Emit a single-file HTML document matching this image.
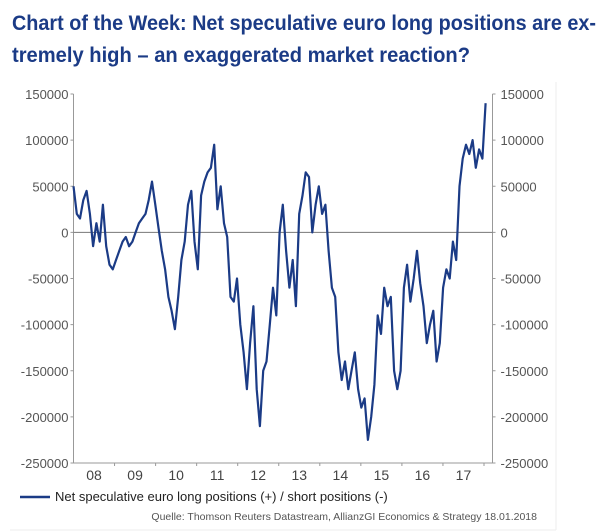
<!DOCTYPE html>
<html><head><meta charset="utf-8"><style>
html,body{margin:0;padding:0;background:#fff;}
svg{display:block;font-family:"Liberation Sans",Arial,sans-serif;}
</style></head><body>
<svg id="chart" width="613" height="532" viewBox="0 0 613 532">
<text x="12" y="30" font-family="'Liberation Sans Narrow','Liberation Sans',sans-serif" font-weight="bold" font-size="21" fill="#1b3b86" textLength="584" lengthAdjust="spacingAndGlyphs">Chart of the Week: Net speculative euro long positions are ex-</text>
<text x="12" y="62" font-family="'Liberation Sans Narrow','Liberation Sans',sans-serif" font-weight="bold" font-size="21" fill="#1b3b86" textLength="458" lengthAdjust="spacingAndGlyphs">tremely high – an exaggerated market reaction?</text>
<line x1="556" y1="82" x2="556" y2="530" stroke="#eee" stroke-width="1"/>
<line x1="10" y1="530" x2="556" y2="530" stroke="#eee" stroke-width="1"/>
<g id="axes"></g>
<g id="series"></g>
<line x1="20" y1="497" x2="50" y2="497" stroke="#1b3b86" stroke-width="2.5"/>
<text x="55" y="501" font-size="13" fill="#222">Net speculative euro long positions (+) / short positions (-)</text>
<text x="537" y="520" font-size="10.5" fill="#555" text-anchor="end">Quelle: Thomson Reuters Datastream, AllianzGI Economics &amp; Strategy 18.01.2018</text>
</svg>
<script>
const yTicks=[150000,100000,50000,0,-50000,-100000,-150000,-200000,-250000];
const years=["08","09","10","11","12","13","14","15","16","17"];
const values=[50000,20000,15000,35000,45000,20000,-15000,10000,-10000,30000,-15000,-35000,-40000,
-30000,-20000,-10000,-5000,-15000,-10000,0,10000,15000,20000,35000,55000,30000,5000,
-20000,-40000,-70000,-85000,-105000,-70000,-30000,-10000,30000,45000,-10000,-40000,
40000,55000,65000,70000,95000,25000,50000,10000,-5000,-70000,-75000,-50000,
-100000,-130000,-170000,-120000,-80000,-170000,-210000,-150000,-140000,-100000,-60000,-90000,
0,30000,-20000,-60000,-30000,-80000,20000,40000,65000,60000,0,30000,50000,
20000,30000,-20000,-60000,-70000,-130000,-160000,-140000,-170000,-150000,-130000,-170000,
-190000,-180000,-225000,-200000,-165000,-90000,-110000,-60000,-80000,-70000,-150000,-170000,
-150000,-60000,-35000,-75000,-50000,-20000,-55000,-80000,-120000,-100000,-85000,-140000,
-120000,-60000,-40000,-50000,-10000,-30000,50000,80000,95000,85000,100000,70000,90000,80000,140000];
const NS="http://www.w3.org/2000/svg";
const X0=73.5,X1=492.5,YEAR0=2008,YW=41.05,Y_TOP=94,Y_BOT=463;
const yS=v=>Y_BOT-(v+250000)/400000*(Y_BOT-Y_TOP);
const xS=t=>X0+(t-YEAR0)*YW;
const axes=document.getElementById('axes');
function mk(tag,attrs,parent){const e=document.createElementNS(NS,tag);for(const k in attrs)e.setAttribute(k,attrs[k]);parent.appendChild(e);return e;}
let l=mk('line',{x1:X0,y1:Y_TOP,x2:X0,y2:Y_BOT,stroke:'#999'},axes);


l=mk('line',{x1:X1,y1:Y_TOP,x2:X1,y2:Y_BOT,stroke:'#999'},axes);


l=mk('line',{x1:X0,y1:Y_BOT,x2:X1,y2:Y_BOT,stroke:'#999'},axes);


l=mk('line',{x1:X0,y1:yS(0),x2:X1,y2:yS(0),stroke:'#777'},axes);


yTicks.forEach(v=>{
 const y=yS(v);
 mk('line',{x1:X0-3,y1:y,x2:X0,y2:y,stroke:'#999'},axes);
 mk('line',{x1:X1,y1:y,x2:X1+3,y2:y,stroke:'#999'},axes);
 let t=mk('text',{x:X0-5,y:y+5,'font-size':13,fill:'#555','text-anchor':'end'},axes);
 t.textContent=v;
 
 
 t=mk('text',{x:X1+8,y:y+5,'font-size':13,fill:'#555'},axes);
 t.textContent=v;
 
 
});
years.forEach((yr,i)=>{
 const xa=xS(YEAR0+i+1);
 mk('line',{x1:xa,y1:Y_BOT,x2:xa,y2:Y_BOT+3,stroke:'#999'},axes);
 const t=mk('text',{x:xS(YEAR0+i+0.5),y:Y_BOT+17,'font-size':14,fill:'#444','text-anchor':'middle'},axes);
 t.textContent=yr;
 
 
});
const n=values.length,tEnd=2018.04;
const d=values.map((v,i)=>(i?'L':'M')+xS(YEAR0+i*(tEnd-YEAR0)/(n-1)).toFixed(1)+','+yS(v).toFixed(1)).join('');
const p=mk('path',{d:d,fill:'none',stroke:'#1b3b86','stroke-width':2.2,'stroke-linejoin':'round'},document.getElementById('series'));


</script>
</body></html>
